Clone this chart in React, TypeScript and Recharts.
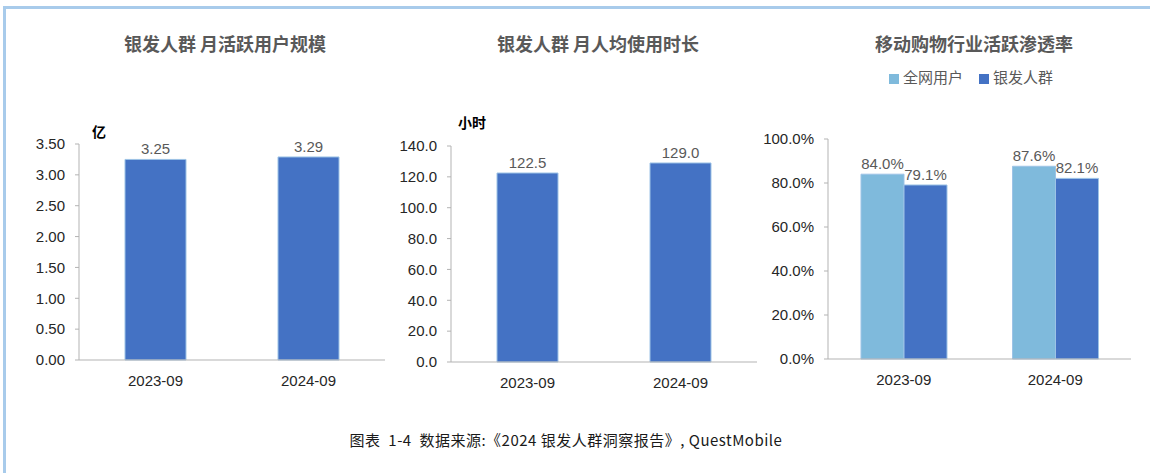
import React from "react";
import { BarChart, Bar, XAxis, YAxis, LabelList, Legend } from "recharts";

// categories
const periods = ["2023-09", "2024-09"];

// 月活跃用户规模 (亿)
const mauValues = [3.25, 3.29];
const mauTicks = [0, 0.5, 1, 1.5, 2, 2.5, 3, 3.5];

// 月人均使用时长 (小时)
const hoursValues = [122.5, 129.0];
const hoursTicks = [0, 20, 40, 60, 80, 100, 120, 140];

// 移动购物行业活跃渗透率
const allUsersRate = [0.84, 0.876];
const silverRate = [0.791, 0.821];
const rateTicks = [0, 0.2, 0.4, 0.6, 0.8, 1];

const DARK = "#4472C4";
const LIGHT = "#7FBADC";
const EDGE = "#9DC3E6";
const AXIS = "#b3b3b3";
const FONT = "'Liberation Sans', Arial, 'Noto Sans CJK SC', sans-serif";
const CJK = "'Noto Sans CJK SC', sans-serif";

const tickStyle = { fill: "#262626", fontSize: 15, fontFamily: FONT };
const labelStyle = { fill: "#595959", fontSize: 15, fontFamily: FONT };

const mauData = periods.map((p, i) => ({ period: p, value: mauValues[i] }));
const hoursData = periods.map((p, i) => ({ period: p, value: hoursValues[i] }));
const rateData = periods.map((p, i) => ({ period: p, all: allUsersRate[i], silver: silverRate[i] }));

const pct = (v: number) => (v * 100).toFixed(1) + "%";

function Title({ text, cx }: { text: string; cx: number }) {
    return (
        <div style={{ position: "absolute", left: cx - 150, width: 300, top: 30, textAlign: "center", fontFamily: CJK, fontWeight: 700, fontSize: 18, color: "#595959", lineHeight: "26px" }}>
            {text}
        </div>
    );
}

function Unit({ text, x, y }: { text: string; x: number; y: number }) {
    return (
        <div style={{ position: "absolute", left: x, top: y, fontFamily: CJK, fontWeight: 700, fontSize: 14, color: "#000", lineHeight: "18px" }}>
            {text}
        </div>
    );
}

export default function App() {
    return (
        <div style={{ position: "relative", width: 1150, height: 473, background: "#fff", overflow: "hidden" }}>
            <style>{`body{margin:0}`}</style>
            <div style={{ position: "absolute", left: 3, top: 6, right: 0, bottom: 0, borderTop: "3px solid #a8cbeb", borderLeft: "3px solid #a8cbeb" }} />

            <Title text="银发人群 月活跃用户规模" cx={225} />
            <Title text="银发人群 月人均使用时长" cx={598} />
            <Title text="移动购物行业活跃渗透率" cx={974} />

            <Unit text="亿" x={92} y={122} />
            <Unit text="小时" x={458} y={113} />

            <div style={{ position: "absolute", left: 20, top: 120 }}>
                <BarChart width={380} height={270} data={mauData} margin={{ top: 24, right: 15, bottom: 0, left: 0 }}>
                    <XAxis dataKey="period" stroke={AXIS} tickLine={false} tick={tickStyle} tickMargin={9} height={30} />
                    <YAxis width={59} domain={[0, 3.5]} ticks={mauTicks} tickFormatter={(v: number) => v.toFixed(2)} stroke={AXIS} tickSize={4} tickMargin={10} tick={tickStyle} interval={0} />
                    <Bar dataKey="value" fill={DARK} stroke={EDGE} strokeWidth={1} barSize={61} isAnimationActive={false}>
                        <LabelList dataKey="value" position="top" formatter={(v: any) => Number(v).toFixed(2)} style={labelStyle} />
                    </Bar>
                </BarChart>
            </div>

            <div style={{ position: "absolute", left: 390, top: 120 }}>
                <BarChart width={380} height={272} data={hoursData} margin={{ top: 26, right: 13, bottom: 0, left: 0 }}>
                    <XAxis dataKey="period" stroke={AXIS} tickLine={false} tick={tickStyle} tickMargin={9} height={30} />
                    <YAxis width={61} domain={[0, 140]} ticks={hoursTicks} tickFormatter={(v: number) => v.toFixed(1)} stroke={AXIS} tickSize={4} tickMargin={10} tick={tickStyle} interval={0} />
                    <Bar dataKey="value" fill={DARK} stroke={EDGE} strokeWidth={1} barSize={61} isAnimationActive={false}>
                        <LabelList dataKey="value" position="top" formatter={(v: any) => Number(v).toFixed(1)} style={labelStyle} />
                    </Bar>
                </BarChart>
            </div>

            <div style={{ position: "absolute", left: 758, top: 60 }}>
                <BarChart width={392} height={329} data={rateData} margin={{ top: 58, right: 19, bottom: 0, left: 0 }} barGap={0}>
                    <XAxis dataKey="period" stroke={AXIS} tickLine={false} tick={tickStyle} tickMargin={9} height={30} />
                    <YAxis width={70} domain={[0, 1]} ticks={rateTicks} tickFormatter={pct} stroke={AXIS} tickSize={4} tickMargin={10} tick={tickStyle} interval={0} />
                    <Legend
                        verticalAlign="top"
                        align="left"
                        iconType="square"
                        iconSize={10}
                        wrapperStyle={{ top: 6, left: 131, width: "auto", fontFamily: CJK, fontSize: 15 }}
                        formatter={(v: any) => <span style={{ color: "#595959", marginRight: 6 }}>{v}</span>}
                    />
                    <Bar dataKey="all" name="全网用户" fill={LIGHT} stroke={EDGE} strokeWidth={1} barSize={43} isAnimationActive={false}>
                        <LabelList dataKey="all" position="top" formatter={(v: any) => pct(Number(v))} style={labelStyle} />
                    </Bar>
                    <Bar dataKey="silver" name="银发人群" fill={DARK} stroke={EDGE} strokeWidth={1} barSize={43} isAnimationActive={false}>
                        <LabelList dataKey="silver" position="top" formatter={(v: any) => pct(Number(v))} style={labelStyle} />
                    </Bar>
                </BarChart>
            </div>

            <div style={{ position: "absolute", left: 0, width: 1132, top: 430, textAlign: "center", fontFamily: CJK, fontWeight: 400, fontSize: 15, letterSpacing: 0.5, color: "#1a1a1a", lineHeight: "20px", whiteSpace: "pre" }}>
                {"图表  1-4  数据来源:《2024 银发人群洞察报告》, QuestMobile"}
            </div>
        </div>
    );
}
